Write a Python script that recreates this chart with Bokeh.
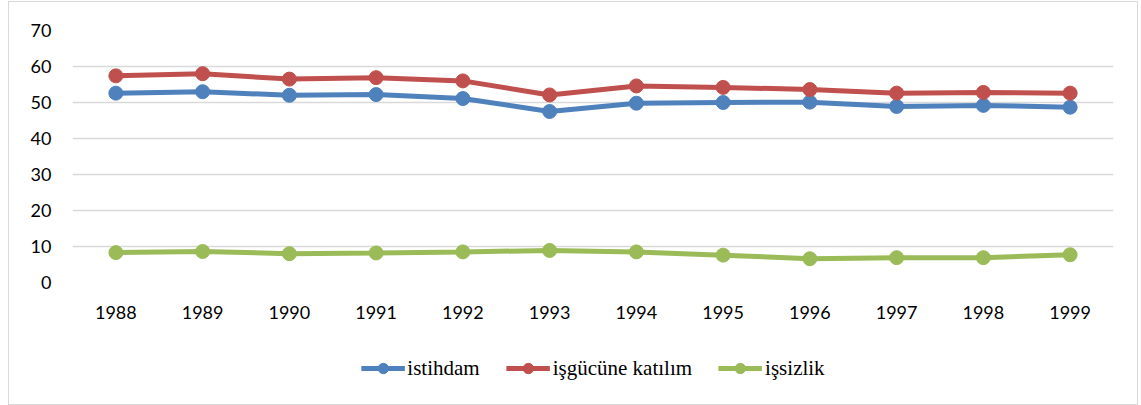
from bokeh.plotting import figure
from bokeh.models import FixedTicker, Legend, LegendItem, Range1d
from bokeh.layouts import column
from bokeh.embed import file_html
from bokeh.resources import INLINE

years = ["1988", "1989", "1990", "1991", "1992", "1993", "1994", "1995", "1996", "1997", "1998", "1999"]
istihdam = [52.6, 53.0, 52.0, 52.2, 51.1, 47.5, 49.8, 50.0, 50.1, 48.9, 49.2, 48.7]
katilim = [57.4, 58.0, 56.5, 56.9, 56.0, 52.1, 54.6, 54.2, 53.6, 52.6, 52.8, 52.6]
issizlik = [8.3, 8.6, 8.0, 8.2, 8.5, 8.9, 8.5, 7.6, 6.6, 6.9, 6.9, 7.7]
y_ticks = [0, 10, 20, 30, 40, 50, 60, 70]
names = ["istihdam", "işgücüne katılım", "işsizlik"]
colors = ["#4f81bd", "#c0504d", "#9bbb59"]
series = [istihdam, katilim, issizlik]

p = figure(x_range=years, y_range=(0, 70), width=1128, height=330,
           output_backend="svg", toolbar_location=None,
           min_border_left=63, min_border_right=24, min_border_top=28, min_border_bottom=50)
p.outline_line_color = None

for vals, c in zip(series, colors):
    p.line(years, vals, line_color=c, line_width=5)
    p.scatter(years, vals, size=14, fill_color=c, line_color=c)

p.xgrid.grid_line_color = None
p.ygrid.grid_line_color = "#d9d9d9"
p.ygrid.grid_line_width = 1.5
p.yaxis.ticker = FixedTicker(ticks=y_ticks)
for ax in (p.xaxis, p.yaxis):
    ax.axis_line_color = None
    ax.major_tick_line_color = None
    ax.minor_tick_line_color = None
    ax.major_tick_out = 0
    ax.major_label_text_font = "Lato"
    ax.major_label_text_font_size = "18px"
    ax.major_label_text_color = "#000000"
p.xaxis.major_label_standoff = 23
p.yaxis.major_label_standoff = 21

# legend strip: same series drawn out of view so only the legend shows
p2 = figure(width=1128, height=72, x_range=years, y_range=Range1d(1000, 1001),
            output_backend="svg", toolbar_location=None,
            min_border_left=0, min_border_right=0, min_border_top=0, min_border_bottom=0)
p2.axis.visible = False
p2.grid.grid_line_color = None
p2.outline_line_color = None
items = []
for name, vals, c in zip(names, series, colors):
    r1 = p2.line(years, vals, line_color=c, line_width=5)
    r2 = p2.scatter(years, vals, size=12, fill_color=c, line_color=c)
    items.append(LegendItem(label=name, renderers=[r1, r2]))
legend = Legend(items=items, orientation="horizontal", location="center",
                label_text_font="Liberation Serif", label_text_font_size="21px",
                label_text_color="#000000", glyph_width=44, glyph_height=26,
                spacing=26, label_standoff=3, border_line_color=None,
                background_fill_alpha=0, margin=0, padding=0)
p2.add_layout(legend, "center")

layout = column(p, p2, spacing=0)
layout.styles = {"border": "1px solid #d9d9d9", "margin-left": "8px", "margin-top": "1px"}

open("out.html", "w").write(file_html(layout, INLINE))
